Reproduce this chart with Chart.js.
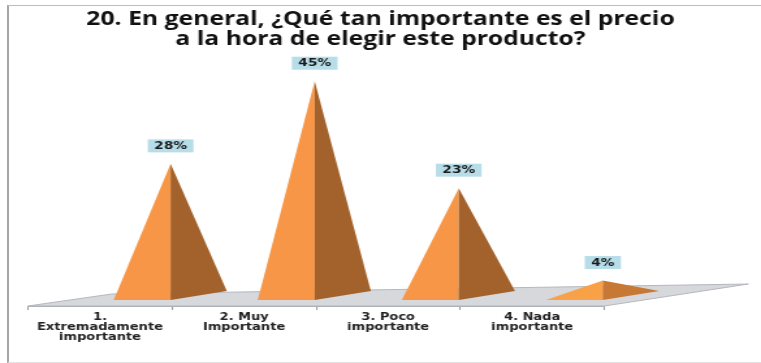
<!DOCTYPE html>
<html>
<head>
  <meta charset="utf-8">
  <title>Precio</title>
  <script src="https://cdn.jsdelivr.net/npm/chart.js"></script>
  <style>
    body { margin: 0; background: white; overflow: hidden; }
    #frame { position: absolute; left: 7px; top: 5px; width: 760px; height: 356px;
             border-left: 2px solid #a6a6a6; border-top: 1px solid #bdbdbd; border-bottom: 1px solid #e2e2e2; }
    /* the reference is stretched sideways, so the canvas is too */
    #chart { position: absolute; left: 0; top: 0; transform: scaleX(1.3009); transform-origin: 0 0; }
  </style>
</head>
<body>
  <div id="frame"></div>
  <canvas id="chart" width="585" height="363"></canvas>
  <script>
    const titleLines = ["20. En general, ¿Qué tan importante es el precio", "a la hora de elegir este producto?"];
    const categories = [["1.", "Extremadamente", "importante"], ["2. Muy", "Importante"], ["3. Poco", "importante"], ["4. Nada", "importante"]];
    const values = [28, 45, 23, 4];
    const valueLabels = ["28%", "45%", "23%", "4%"];

    function mix(a, b, t) {
      const p = s => [1, 3, 5].map(i => parseInt(s.substr(i, 2), 16));
      const ca = p(a), cb = p(b);
      return "rgb(" + ca.map((v, i) => Math.round(v + (cb[i] - v) * t)).join(",") + ")";
    }

    // floor plane + 3D pyramids, placed from the chart's own scales
    const pyramids = {
      id: "pyramids",
      beforeDatasetsDraw(chart) {
        const { ctx, chartArea: a, scales: { x } } = chart;
        const cw = x.width / categories.length;
        ctx.save();
        ctx.beginPath();
        ctx.moveTo(a.left, a.bottom);
        ctx.lineTo(a.right, a.bottom);
        ctx.lineTo(a.right + cw, a.bottom - 22);
        ctx.lineTo(a.left + 0.58 * cw, a.bottom - 12);
        ctx.closePath();
        ctx.fillStyle = "#d6d8dc";
        ctx.fill();
        ctx.strokeStyle = "#b4b8bd";
        ctx.lineWidth = 1;
        ctx.stroke();
        ctx.restore();
      },
      afterDatasetsDraw(chart) {
        const { ctx, scales: { x, y } } = chart;
        const cw = x.width / categories.length;
        const base = y.getPixelForValue(0) - 6;
        ctx.save();
        chart.getDatasetMeta(0).data.forEach((bar, i) => {
          const cx = bar.x + 0.49 * cw;
          const top = y.getPixelForValue(values[i]) - 6;
          const t = Math.min(1, (base - top) / 100);

          ctx.beginPath();
          ctx.moveTo(cx - 0.395 * cw, base);
          ctx.lineTo(cx, base);
          ctx.lineTo(cx, top);
          ctx.closePath();
          ctx.fillStyle = mix("#faa446", "#f79646", t);
          ctx.fill();

          ctx.beginPath();
          ctx.moveTo(cx, base);
          ctx.lineTo(cx + 0.39 * cw, base - 9);
          ctx.lineTo(cx, top);
          ctx.closePath();
          ctx.fillStyle = mix("#cf7d36", "#a3622c", t);
          ctx.fill();

          // value label box
          ctx.font = "bold 10.5px 'DejaVu Sans'";
          const w = ctx.measureText(valueLabels[i]).width + 10;
          const ly = top - 18;
          ctx.fillStyle = "#b7dde8";
          ctx.fillRect(cx - w / 2, ly - 6.5, w, 13);
          ctx.fillStyle = "#1a1a1a";
          ctx.textAlign = "center";
          ctx.textBaseline = "middle";
          ctx.fillText(valueLabels[i], cx, ly + 0.5);
        });
        ctx.restore();
      }
    };

    new Chart(document.getElementById("chart"), {
      type: "bar",
      data: {
        labels: categories,
        datasets: [{
          data: values,
          backgroundColor: "rgba(0,0,0,0)"
        }]
      },
      options: {
        responsive: false,
        animation: false,
        layout: { padding: { left: 21.5, right: 21.5, top: 0, bottom: 19 } },
        plugins: {
          legend: { display: false },
          tooltip: { enabled: false },
          title: {
            display: true,
            text: titleLines,
            color: "#111",
            font: { family: "Open Sans", weight: "bold", size: 19, lineHeight: 1.05 },
            padding: { top: 10, bottom: 13 }
          }
        },
        scales: {
          x: {
            grid: { drawOnChartArea: false, drawTicks: true, tickLength: 4, color: "#9a9a9a" },
            border: { display: true, color: "#a8acb1" },
            ticks: {
              color: "#222",
              padding: 2,
              maxRotation: 0,
              autoSkip: false,
              font: { family: "DejaVu Sans", weight: "bold", size: 10, lineHeight: 1.0 }
            }
          },
          y: {
            position: "right",
            min: 0,
            max: 50,
            grid: { display: false },
            border: { display: false },
            ticks: { display: false },
            // empty room on the right where the floor runs back
            afterFit(scale) { scale.width = 99; }
          }
        }
      },
      plugins: [pyramids]
    });
  </script>
</body>
</html>
